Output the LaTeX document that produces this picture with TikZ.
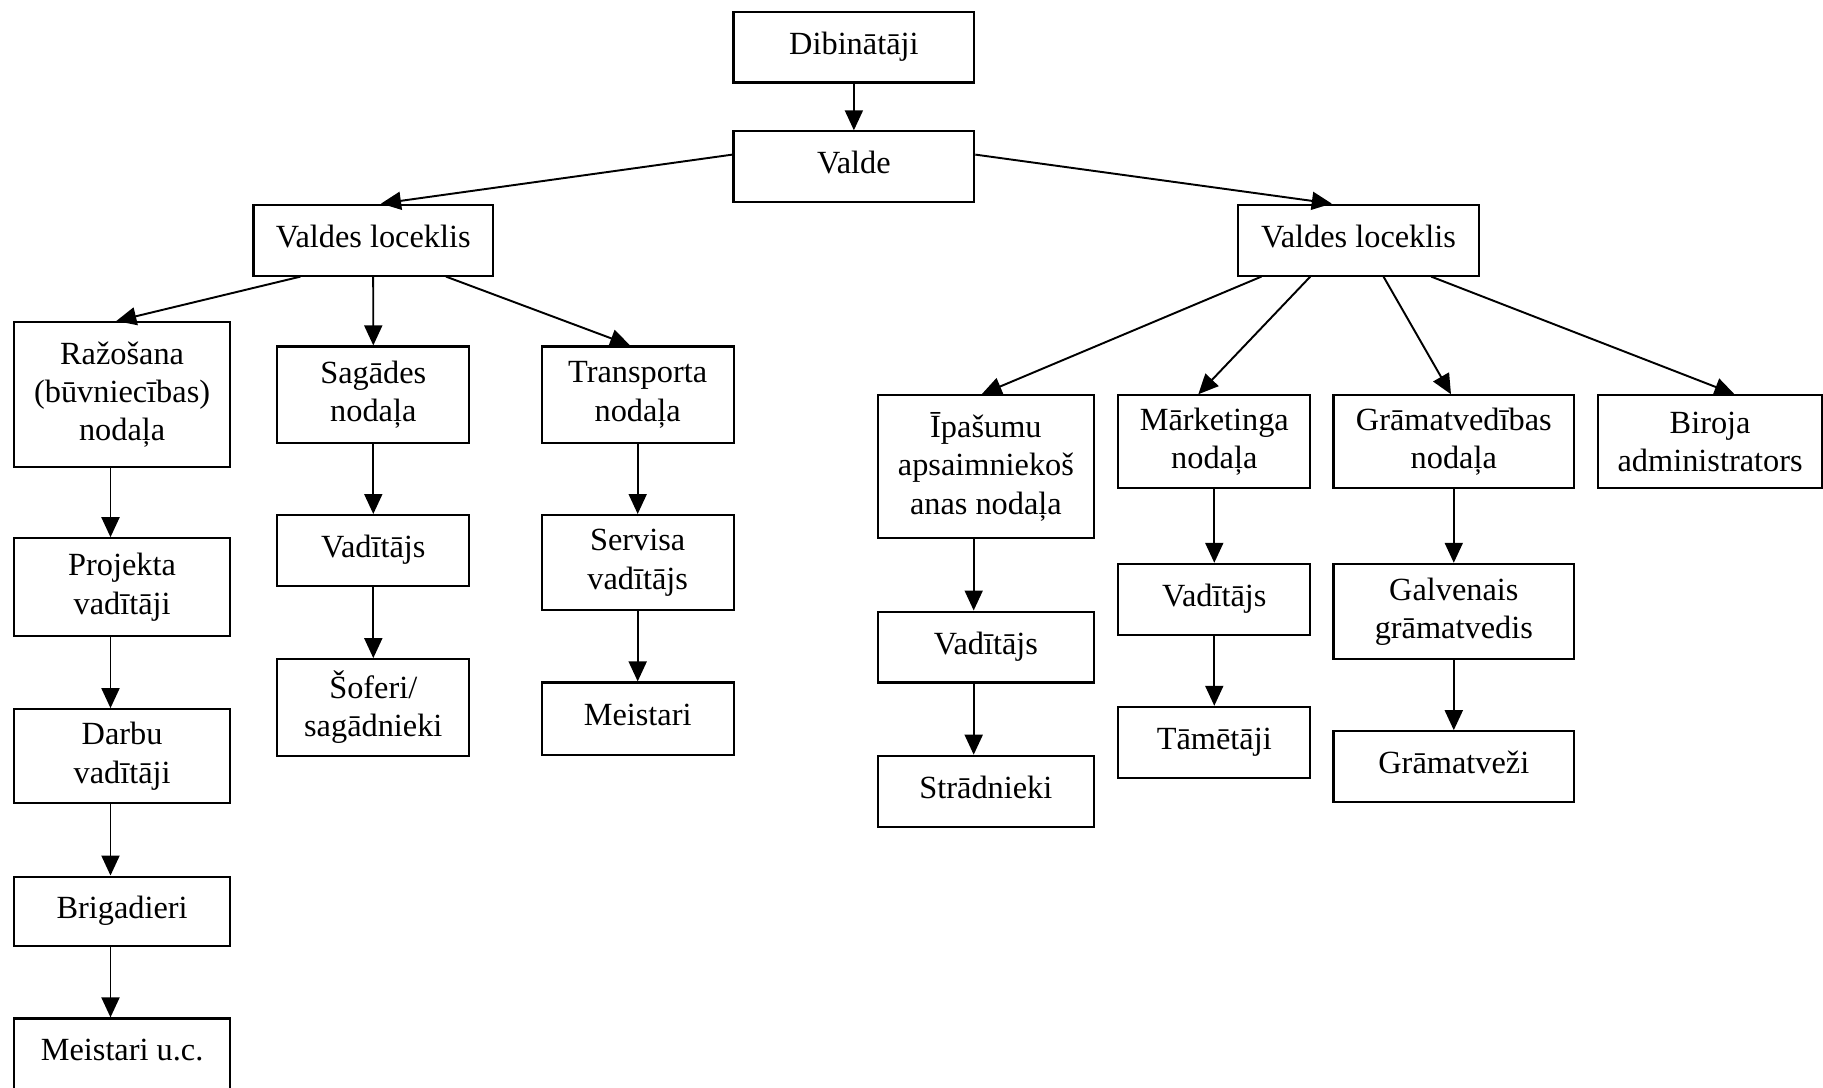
\documentclass[tikz,border=0pt]{standalone}
\usepackage{fontspec}
\setmainfont{Liberation Serif}
\usetikzlibrary{arrows.meta}
\tikzset{
  unitnode/.style={
    rectangle, draw, line width=0.6pt, align=center,
    inner sep=1pt, font=\fontsize{9.2}{10.9}\selectfont
  },
  singlenode/.style={unitnode, text height=2.6mm, text depth=1.2mm},
  linkarrow/.style={-{Triangle[length=2mm, width=1.8mm]}, line width=0.55pt},
}
\begin{document}
\begin{tikzpicture}
  \useasboundingbox (0,0) rectangle (18.23,-10.88);

  % ── Top ──
  \node[singlenode, minimum width=2.407cm, minimum height=0.709cm] (dib)   at (8.539,-0.471) {Dibinātāji};
  \node[singlenode, minimum width=2.407cm, minimum height=0.709cm] (valde) at (8.539,-1.668) {Valde};
  \node[singlenode, minimum width=2.395cm, minimum height=0.709cm] (vlA)   at (3.732,-2.401) {Valdes loceklis};
  \node[singlenode, minimum width=2.407cm, minimum height=0.709cm] (vlB)   at (13.585,-2.401) {Valdes loceklis};

  % ── Left branch ──
  \node[unitnode, minimum width=2.162cm, minimum height=1.453cm] (raz)    at (1.221,-3.947) {Ražošana\\(būvniecības)\\nodaļa};
  \node[unitnode, minimum width=2.162cm, minimum height=0.977cm] (proj)   at (1.221,-5.871) {Projekta\\vadītāji};
  \node[unitnode, minimum width=2.162cm, minimum height=0.942cm] (darbu)  at (1.221,-7.563) {Darbu\\vadītāji};
  \node[singlenode, minimum width=2.162cm, minimum height=0.698cm] (brig) at (1.221,-9.115) {Brigadieri};
  \node[singlenode, minimum width=2.162cm, minimum height=0.709cm] (meistA) at (1.221,-10.539) {Meistari u.c.};

  \node[unitnode, minimum width=1.918cm, minimum height=0.965cm] (sag)    at (3.733,-3.947) {Sagādes\\nodaļa};
  \node[singlenode, minimum width=1.918cm, minimum height=0.709cm] (sagvad) at (3.733,-5.505) {Vadītājs};
  \node[unitnode, minimum width=1.918cm, minimum height=0.965cm] (sofer)  at (3.733,-7.074) {Šoferi/\\sagādnieki};

  \node[unitnode, minimum width=1.918cm, minimum height=0.965cm] (trans)  at (6.377,-3.947) {Transporta\\nodaļa};
  \node[unitnode, minimum width=1.918cm, minimum height=0.953cm] (serv)   at (6.377,-5.627) {Servisa\\vadītājs};
  \node[singlenode, minimum width=1.918cm, minimum height=0.721cm] (meistB) at (6.377,-7.185) {Meistari};

  % ── Right branch ──
  \node[unitnode, minimum width=2.162cm, minimum height=1.430cm] (ipas)   at (9.859,-4.668) {Īpašumu\\apsaimniekoš\\anas nodaļa};
  \node[singlenode, minimum width=2.162cm, minimum height=0.709cm] (ipvad) at (9.859,-6.470) {Vadītājs};
  \node[singlenode, minimum width=2.162cm, minimum height=0.709cm] (strad) at (9.859,-7.912) {Strādnieki};

  \node[unitnode, minimum width=1.918cm, minimum height=0.930cm] (mark)   at (12.143,-4.418) {Mārketinga\\nodaļa};
  \node[singlenode, minimum width=1.918cm, minimum height=0.709cm] (markvad) at (12.143,-5.993) {Vadītājs};
  \node[singlenode, minimum width=1.918cm, minimum height=0.709cm] (tam)  at (12.143,-7.423) {Tāmētāji};

  \node[unitnode, minimum width=2.407cm, minimum height=0.930cm] (gram)   at (14.538,-4.418) {Grāmatvedības\\nodaļa};
  \node[unitnode, minimum width=2.407cm, minimum height=0.953cm] (galv)   at (14.538,-6.115) {Galvenais\\grāmatvedis};
  \node[singlenode, minimum width=2.407cm, minimum height=0.709cm] (gramv) at (14.538,-7.667) {Grāmatveži};

  \node[unitnode, minimum width=2.234cm, minimum height=0.930cm] (bir)    at (17.101,-4.418) {Biroja\\administrators};

  % ── Edges: top ──
  \draw[linkarrow] (dib) -- (valde);
  \draw[linkarrow] ([yshift=0.122cm]valde.west) -- ([xshift=0.078cm]vlA.north);
  \draw[linkarrow] ([yshift=0.122cm]valde.east) -- ([xshift=-0.267cm]vlB.north);

  % ── Edges: left member ──
  \draw[linkarrow] ([xshift=-0.727cm]vlA.south) -- ([xshift=-0.058cm]raz.north);
  \draw[linkarrow] (vlA.south) -- (sag.north);
  \draw[linkarrow] ([xshift=0.728cm]vlA.south) -- ([xshift=-0.076cm]trans.north);

  \draw[linkarrow] ([xshift=-0.116cm]raz.south) -- ([xshift=-0.116cm]proj.north);
  \draw[linkarrow] ([xshift=-0.116cm]proj.south) -- ([xshift=-0.116cm]darbu.north);
  \draw[linkarrow] ([xshift=-0.116cm]darbu.south) -- ([xshift=-0.116cm]brig.north);
  \draw[linkarrow] ([xshift=-0.116cm]brig.south) -- ([xshift=-0.116cm]meistA.north);

  \draw[linkarrow] (sag) -- (sagvad);
  \draw[linkarrow] (sagvad) -- (sofer);
  \draw[linkarrow] (trans) -- (serv);
  \draw[linkarrow] (serv) -- (meistB);

  % ── Edges: right member ──
  \draw[linkarrow] ([xshift=-0.971cm]vlB.south) -- ([xshift=-0.042cm]ipas.north);
  \draw[linkarrow] ([xshift=-0.482cm]vlB.south) -- ([xshift=-0.160cm]mark.north);
  \draw[linkarrow] ([xshift=0.250cm]vlB.south) -- ([xshift=-0.028cm]gram.north);
  \draw[linkarrow] ([xshift=0.727cm]vlB.south) -- ([xshift=0.244cm]bir.north);

  \draw[linkarrow] ([xshift=-0.122cm]ipas.south) -- ([xshift=-0.122cm]ipvad.north);
  \draw[linkarrow] ([xshift=-0.122cm]ipvad.south) -- ([xshift=-0.122cm]strad.north);
  \draw[linkarrow] (mark) -- (markvad);
  \draw[linkarrow] (markvad) -- (tam);
  \draw[linkarrow] (gram) -- (galv);
  \draw[linkarrow] (galv) -- (gramv);

\end{tikzpicture}
\end{document}
